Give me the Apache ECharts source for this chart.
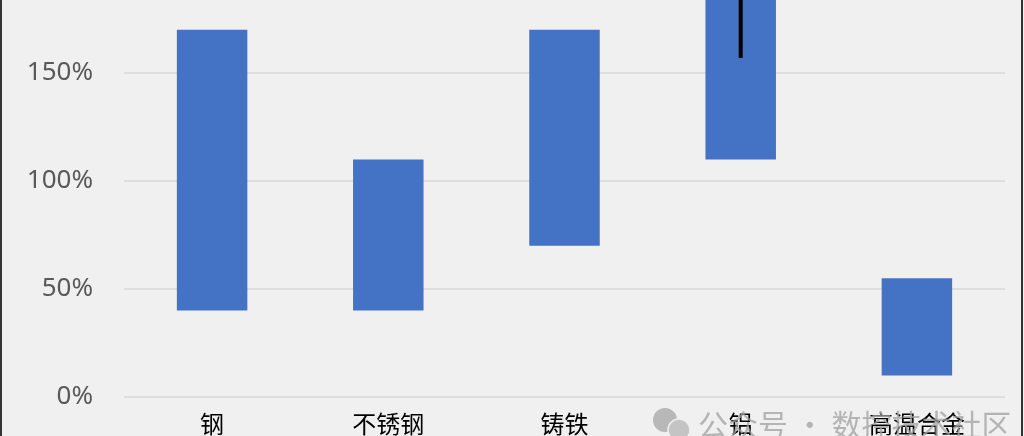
<!DOCTYPE html>
<html>
<head>
<meta charset="utf-8">
<script src="https://cdn.jsdelivr.net/npm/echarts@6/dist/echarts.min.js"></script>
<style>
html,body{margin:0;padding:0;background:#f0f0f0;}
#c{width:1024px;height:436px;}
</style>
</head>
<body>
<div id="c"></div>
<script>
const categories = ['钢', '不锈钢', '铸铁', '铝', '高温合金'];
const lowValues = [40, 40, 70, 110, 10];
const highValues = [170, 110, 170, 200, 55];
const whiskerLow = [null, null, null, 157, null];
const whiskerHigh = [null, null, null, 200, null];
const yTicks = [0, 50, 100, 150, 200];

const rangeValues = highValues.map((h, i) => h - lowValues[i]);
const whiskerData = [];
whiskerLow.forEach((v, i) => { if (v != null) whiskerData.push([i, v, whiskerHigh[i]]); });

const chart = echarts.init(document.getElementById('c'), null, {renderer: 'canvas'});
chart.setOption({
  backgroundColor: '#f0f0f0',
  animation: false,
  grid: {left: 124, right: 19, top: -35, bottom: 39, containLabel: false, outerBoundsMode: 'none'},
  xAxis: {
    type: 'category',
    data: categories,
    axisLine: {show: false},
    axisTick: {show: false},
    axisLabel: {color: '#000', fontSize: 24, margin: 14, fontFamily: 'Noto Sans CJK SC', lineHeight: 26}
  },
  yAxis: {
    type: 'value',
    min: yTicks[0],
    max: yTicks[yTicks.length - 1],
    interval: 50,
    axisLine: {show: false},
    axisTick: {show: false},
    axisLabel: {formatter: '{value}%', color: '#595959', fontSize: 26, margin: 31, fontFamily: 'Noto Sans'},
    splitLine: {lineStyle: {color: '#d9d9d9', width: 1.5}}
  },
  series: [
    {type: 'bar', stack: 'r', data: lowValues, barWidth: '40%', itemStyle: {color: 'transparent'}, silent: true},
    {type: 'bar', stack: 'r', data: rangeValues, barWidth: '40%', itemStyle: {color: '#4472c4'}},
    {
      type: 'custom',
      data: whiskerData,
      renderItem: function (params, api) {
        const p1 = api.coord([api.value(0), api.value(1)]);
        const p2 = api.coord([api.value(0), api.value(2)]);
        return {type: 'line', shape: {x1: p1[0], y1: p1[1], x2: p2[0], y2: p2[1]}, style: {stroke: '#000', lineWidth: 4}};
      },
      z: 5
    }
  ],
  graphic: [
    {type: 'rect', left: 0, top: 0, shape: {width: 2, height: 436}, style: {fill: '#333'}},
    {type: 'rect', left: 1021, top: 0, shape: {width: 2, height: 436}, style: {fill: '#333'}},
    {type: 'circle', shape: {cx: 665, cy: 420, r: 12}, style: {fill: '#b8b8b8'}, z: 10},
    {type: 'circle', shape: {cx: 679, cy: 430, r: 11}, style: {fill: '#c4c4c4', stroke: '#f0f0f0', lineWidth: 1.5}, z: 11},
    {type: 'text', left: 698, top: 410, style: {text: '公众号 · 数控技术社区', fill: 'rgba(160,160,160,0.75)', font: '30px "Noto Sans CJK SC"'}, z: 1}
  ]
});
</script>
</body>
</html>
